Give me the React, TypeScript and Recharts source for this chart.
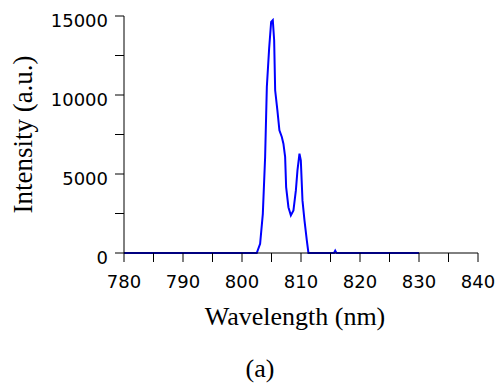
import { LineChart, Line, XAxis, YAxis, Label } from "recharts";

// emission spectrum (wavelength in nm, intensity in a.u.)
const wavelengths = [
    780, 802.5, 803.07, 803.53, 803.92, 804.21, 804.6, 804.94, 805.22, 805.45, 805.62, 806.0,
    806.34, 806.75, 807.02, 807.31, 807.48, 807.87, 808.28, 808.72, 809.13, 809.4, 809.74,
    809.97, 810.25, 810.59, 810.99, 811.26, 815.6, 815.8, 816.0, 830
];
const intensities = [
    0, 0, 580, 2480, 6080, 10510, 12950, 14630, 14740, 13470, 10300, 9030,
    7770, 7340, 6920, 6080, 4170, 2900, 2380, 2700, 3960, 5230, 6290,
    5860, 3330, 2060, 790, 0, 0, 150, 0, 0
];

const xTicks = [780, 785, 790, 795, 800, 805, 810, 815, 820, 825, 830, 835, 840];
const yTicks = [0, 2500, 5000, 7500, 10000, 12500, 15000];

const data = wavelengths.map((nm, i) => ({ nm, value: intensities[i] }));

const tickFont = { fontFamily: "DejaVu Sans", fontSize: 18, fill: "#000" };
const titleFont = "Liberation Serif";

function YTitle({ viewBox }: any) {
    const x = viewBox.x + 32;
    const y = viewBox.y + viewBox.height / 2;
    return (
        <text x={x} y={y} transform={`rotate(-90, ${x}, ${y})`} textAnchor="middle" fontFamily={titleFont} fontSize={27} fill="#000">
            Intensity (a.u.)
        </text>
    );
}

function XTitle({ viewBox }: any) {
    return (
        <text x={viewBox.x + viewBox.width / 2 - 6} y={viewBox.y + 72} textAnchor="middle" fontFamily={titleFont} fontSize={26} fill="#000">
            Wavelength (nm)
        </text>
    );
}

export default function App() {
    return (
        <div style={{ position: "absolute", left: 0, top: 0, width: 496, height: 385, background: "#fff" }}>
            <LineChart width={496} height={385} data={data} margin={{ top: 16, right: 18, bottom: 57, left: 0 }}>
                <XAxis
                    type="number"
                    dataKey="nm"
                    domain={[780, 840]}
                    ticks={xTicks}
                    interval={0}
                    tickFormatter={(v: number) => (v % 10 === 0 ? String(v) : "")}
                    tickSize={9}
                    tickMargin={13}
                    height={75}
                    tick={tickFont}
                    axisLine={{ stroke: "#000", strokeWidth: 1 }}
                    tickLine={{ stroke: "#000", strokeWidth: 1 }}
                >
                    <Label content={<XTitle />} />
                </XAxis>
                <YAxis
                    type="number"
                    domain={[0, 15000]}
                    ticks={yTicks}
                    interval={0}
                    tickFormatter={(v: number) => (v % 5000 === 0 ? String(v) : "")}
                    tickSize={9}
                    tickMargin={7}
                    width={124}
                    tick={{ ...tickFont, dy: 5 }}
                    axisLine={{ stroke: "#000", strokeWidth: 1 }}
                    tickLine={{ stroke: "#000", strokeWidth: 1 }}
                >
                    <Label content={<YTitle />} />
                </YAxis>
                <Line type="linear" dataKey="value" stroke="#0000ff" strokeWidth={2} dot={false} isAnimationActive={false} />
            </LineChart>
            <svg width={496} height={385} style={{ position: "absolute", left: 0, top: 0, pointerEvents: "none" }}>
                <text x={260} y={377} textAnchor="middle" fontFamily={titleFont} fontSize={26} fill="#000">
                    (a)
                </text>
            </svg>
        </div>
    );
}
